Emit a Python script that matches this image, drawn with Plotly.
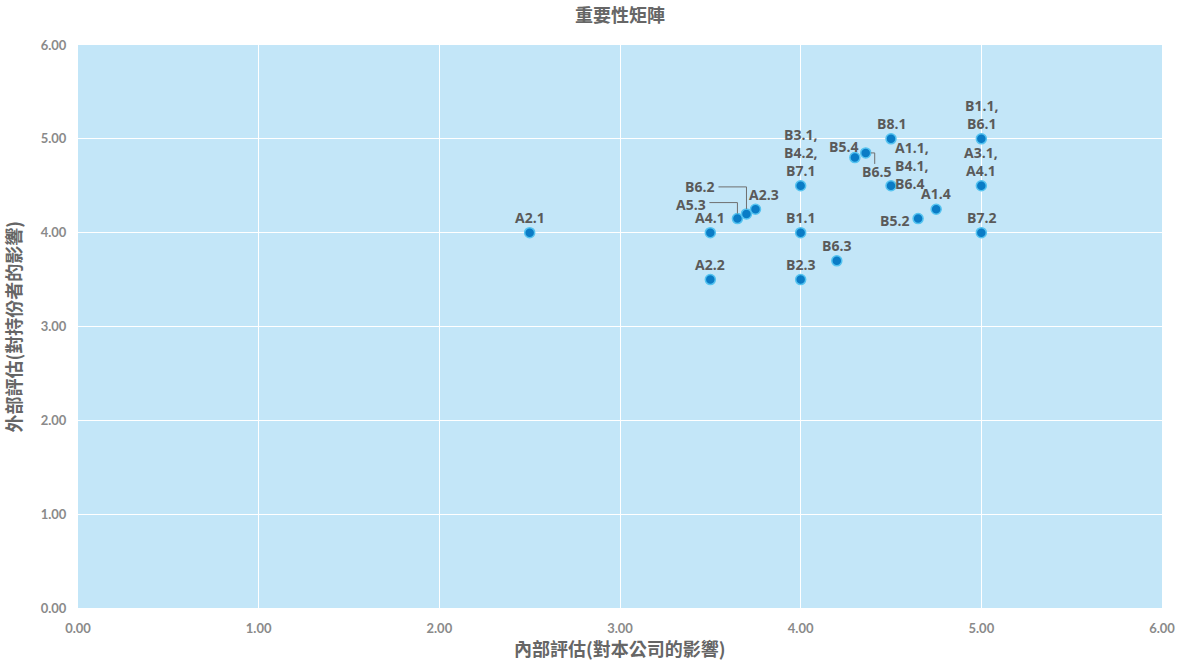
import plotly.graph_objects as go

# ---- data ----
labels = ["A2.1", "A4.1", "A2.2", "A5.3", "B6.2", "A2.3",
          "B3.1,<br>B4.2,<br>B7.1", "B1.1", "B2.3", "B6.3",
          "B5.4", "B6.5", "B8.1", "A1.1,<br>B4.1,<br>B6.4",
          "B5.2", "A1.4", "B1.1,<br>B6.1", "A3.1,<br>A4.1", "B7.2"]
internal = [2.5, 3.5, 3.5, 3.65, 3.7, 3.75,
            4.0, 4.0, 4.0, 4.2,
            4.3, 4.36, 4.5, 4.5,
            4.65, 4.75, 5.0, 5.0, 5.0]
external = [4.0, 4.0, 3.5, 4.15, 4.2, 4.25,
            4.5, 4.0, 3.5, 3.7,
            4.8, 4.85, 5.0, 4.5,
            4.15, 4.25, 5.0, 4.5, 4.0]
tick_vals = [0, 1, 2, 3, 4, 5, 6]
tick_text = ["0.00", "1.00", "2.00", "3.00", "4.00", "5.00", "6.00"]

# ---- label placement (style) ----
placement = {
    "A5.3": dict(xanchor="right", yanchor="middle", xshift=-30, yshift=14),
    "B6.2": dict(xanchor="right", yanchor="middle", xshift=-31, yshift=27),
    "A2.3": dict(xanchor="center", yanchor="bottom", xshift=8, yshift=4),
    "B5.4": dict(xanchor="right", yanchor="bottom", xshift=4, yshift=1),
    "B6.5": dict(xanchor="center", yanchor="middle", xshift=11, yshift=-19),
    "A1.1,<br>B4.1,<br>B6.4": dict(xanchor="left", yanchor="bottom", xshift=3, yshift=-8),
    "B5.2": dict(xanchor="right", yanchor="middle", xshift=-8, yshift=-2),
}
default_place = dict(xanchor="center", yanchor="bottom", xshift=0, yshift=5)

# connector lines (pixel offsets relative to their point)
connectors = {
    "A5.3": "M 0 5 L 0 16 L -28 16",
    "B6.2": "M 0 5 L 0 27 L -28 27",
    "B6.5": "M 5 0 L 9 0 L 9 -11",
}

label_font = dict(family="Open Sans, Lato, sans-serif", size=14, color="#5a5a5a", weight="bold")
title_font = dict(family="Noto Sans CJK TC", size=18, color="#666666")

fig = go.Figure()
fig.add_trace(go.Scatter(
    x=internal, y=external, mode="markers",
    marker=dict(size=10, color="#0a7cc6", line=dict(color="#55c3f0", width=1.5)),
    hoverinfo="skip", showlegend=False,
))

annotations = []
shapes = []
for lab, xv, yv in zip(labels, internal, external):
    p = placement.get(lab, default_place)
    annotations.append(dict(
        x=xv, y=yv, xref="x", yref="y", text=lab, showarrow=False,
        font=label_font, borderpad=0,
        align="left" if p["xanchor"] == "left" else "center",
        **p,
    ))
    if lab in connectors:
        shapes.append(dict(
            type="path", xref="x", yref="y", xsizemode="pixel", ysizemode="pixel",
            xanchor=xv, yanchor=yv, path=connectors[lab],
            line=dict(color="#6f6f6f", width=1),
        ))

# axis titles
annotations.append(dict(
    text="<b>內部評估(對本公司的影響)</b>", xref="paper", yref="paper",
    x=0.5, y=0, yshift=-40, xanchor="center", yanchor="middle",
    showarrow=False, font=title_font))
annotations.append(dict(
    text="<b>外部評估(對持份者的影響)</b>", xref="paper", yref="paper",
    x=0, y=0.5, xshift=-66, xanchor="center", yanchor="middle", textangle=-90,
    showarrow=False, font=title_font))

axis_common = dict(
    range=[0, 6], tickvals=tick_vals, ticktext=tick_text,
    showgrid=True, gridcolor="white", gridwidth=1, zeroline=False,
    showline=False, ticks="outside", ticklen=8, tickcolor="rgba(0,0,0,0)",
    automargin=False,
    tickfont=dict(family="Lato", size=13, color="#8a8a8a", weight="bold"),
)

fig.update_layout(
    width=1181, height=661,
    margin=dict(l=78, r=19, t=45, b=53),
    paper_bgcolor="white",
    plot_bgcolor="#c3e6f8",
    title=dict(text="<b>重要性矩陣</b>", xref="paper", x=0.5, xanchor="center",
               y=0.977, yanchor="middle",
               font=dict(family="Noto Sans CJK TC", size=18, color="#666666")),
    annotations=annotations,
    shapes=shapes,
    xaxis=axis_common,
    yaxis=axis_common,
)

fig.write_html("out.html", config={"displayModeBar": False},
               post_script="document.body.style.margin='0';")
